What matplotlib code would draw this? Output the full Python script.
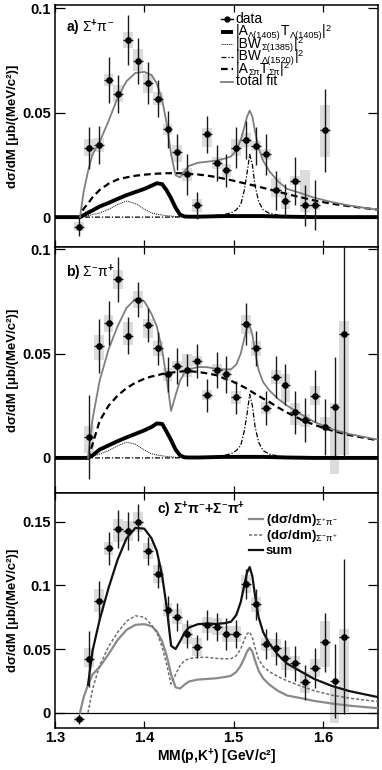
import numpy as np
import matplotlib
matplotlib.use("Agg")
import matplotlib.pyplot as plt
from matplotlib.lines import Line2D

plt.rcParams['font.family'] = ['Liberation Sans', 'DejaVu Sans']
plt.rcParams['mathtext.fontset'] = 'custom'
plt.rcParams['mathtext.rm'] = 'Liberation Sans'
plt.rcParams['mathtext.it'] = 'Liberation Sans'
plt.rcParams['mathtext.bf'] = 'Liberation Sans:bold'

# ---------------- data points ----------------
x_data = [1.327, 1.338, 1.349, 1.360, 1.371, 1.382, 1.393, 1.404, 1.415, 1.426,
          1.437, 1.448, 1.459, 1.470, 1.481, 1.492, 1.503, 1.514, 1.525, 1.536,
          1.547, 1.558, 1.569, 1.580, 1.591, 1.602, 1.613, 1.624]

# panel a: Sigma+ pi-  (first 26 bins)
ya = [-0.0045, 0.0332, 0.0345, 0.0657, 0.059, 0.0848, 0.0745, 0.064, 0.0567, 0.042,
      0.0313, 0.0204, 0.0056, 0.0396, 0.026, 0.0224, 0.0332, 0.0369, 0.034, 0.030,
      0.0128, 0.0079, 0.0175, 0.0056, 0.0056, 0.0415]
ea = [0.0045, 0.010, 0.009, 0.011, 0.009, 0.012, 0.011, 0.010, 0.009, 0.009,
      0.0087, 0.0096, 0.0065, 0.009, 0.0085, 0.008, 0.0098, 0.009, 0.009, 0.010,
      0.0092, 0.0078, 0.0115, 0.010, 0.012, 0.020]
sa_lo = [0.002, 0.004, 0.0035, 0.003, 0.004, 0.004, 0.0045, 0.0045, 0.003, 0.0025,
         0.005, 0.003, 0.003, 0.006, 0.003, 0.003, 0.004, 0.0035, 0.0025, 0.0025,
         0.0033, 0.004, 0.002, 0.003, 0.002, 0.0125]
sa_hi = [0.002, 0.004, 0.0035, 0.003, 0.004, 0.004, 0.006, 0.0045, 0.003, 0.0025,
         0.003, 0.003, 0.003, 0.003, 0.003, 0.003, 0.004, 0.0035, 0.0025, 0.0025,
         0.006, 0.004, 0.002, 0.017, 0.002, 0.012]

# panel b: Sigma- pi+  (bins 2..28)
yb = [0.010, 0.0537, 0.0645, 0.0855, 0.0585, 0.0758, 0.0637, 0.0524, 0.040, 0.044,
      0.0423, 0.0465, 0.030, 0.042, 0.040, 0.029, 0.064, 0.0524, 0.0239, 0.0387,
      0.035, 0.0218, 0.018, 0.0298, 0.0148, 0.0245, 0.0594]
eb = [0.020, 0.0129, 0.0105, 0.0106, 0.0089, 0.0085, 0.008, 0.0077, 0.0085, 0.0085,
      0.0077, 0.008, 0.008, 0.0085, 0.0089, 0.008, 0.010, 0.0085, 0.008, 0.0099,
      0.0098, 0.0102, 0.0106, 0.0125, 0.0135, 0.0236, 0.059]
sb_lo = [0.0076, 0.007, 0.004, 0.0045, 0.0045, 0.004, 0.0065, 0.0035, 0.003, 0.0025,
         0.0035, 0.0025, 0.0025, 0.003, 0.003, 0.003, 0.0045, 0.0035, 0.003, 0.0035,
         0.0083, 0.006, 0.003, 0.0045, 0.0008, 0.032, 0.058]
sb_hi = [0.0053, 0.0052, 0.004, 0.0045, 0.0068, 0.004, 0.003, 0.0035, 0.003, 0.0025,
         0.0077, 0.0025, 0.0025, 0.003, 0.003, 0.003, 0.0045, 0.0035, 0.003, 0.0035,
         0.0053, 0.0044, 0.003, 0.0045, 0.005, 0.0016, 0.006]

# panel c: sum of both channels (all 28 bins)
yc = [-0.005, 0.0421, 0.088, 0.129, 0.144, 0.1427, 0.1495, 0.127, 0.1086, 0.081,
      0.0754, 0.0618, 0.0518, 0.0688, 0.0675, 0.0618, 0.0618, 0.1008, 0.085, 0.0537,
      0.0505, 0.0427, 0.0387, 0.0238, 0.0348, 0.0552, 0.0249, 0.0597]
ec = [0.004, 0.022, 0.0157, 0.013, 0.015, 0.0148, 0.0144, 0.011, 0.011, 0.011,
      0.011, 0.011, 0.009, 0.0118, 0.011, 0.0124, 0.011, 0.0118, 0.0124, 0.0118,
      0.013, 0.0144, 0.0137, 0.0137, 0.0157, 0.023, 0.029, 0.061]
sc_lo = [0.002, 0.006, 0.009, 0.005, 0.010, 0.008, 0.008, 0.0065, 0.007, 0.005,
         0.006, 0.008, 0.007, 0.006, 0.0065, 0.006, 0.006, 0.007, 0.006, 0.005,
         0.007, 0.009, 0.006, 0.0085, 0.007, 0.019, 0.0326, 0.059]
sc_hi = [0.002, 0.0084, 0.009, 0.005, 0.008, 0.008, 0.008, 0.0065, 0.007, 0.005,
         0.006, 0.008, 0.007, 0.006, 0.0065, 0.006, 0.006, 0.007, 0.006, 0.005,
         0.007, 0.009, 0.006, 0.0085, 0.007, 0.017, -0.0052, 0.006]

# ---------------- fit curves ----------------
x_fit = [1.300, 1.328, 1.332, 1.337, 1.342, 1.350, 1.360, 1.370, 1.380, 1.390,
         1.400, 1.408, 1.414, 1.420, 1.425, 1.430, 1.435, 1.440, 1.445, 1.450,
         1.460, 1.470, 1.480, 1.490, 1.497, 1.503, 1.508, 1.512, 1.515, 1.518,
         1.521, 1.524, 1.528, 1.533, 1.540, 1.550, 1.560, 1.575, 1.590, 1.610,
         1.630, 1.662]

a_tot = [0, 0, 0.012, 0.022, 0.030, 0.036, 0.046, 0.057, 0.065, 0.069,
         0.0695, 0.068, 0.064, 0.056, 0.045, 0.030, 0.020, 0.019, 0.022, 0.0245,
         0.026, 0.0265, 0.027, 0.028, 0.029, 0.032, 0.037, 0.043, 0.048, 0.051,
         0.048, 0.041, 0.033, 0.027, 0.022, 0.017, 0.0135, 0.0115, 0.0093, 0.0072,
         0.0055, 0.0035]
a_L1405 = [0, 0, 0.0009, 0.0021, 0.0032, 0.0051, 0.0068, 0.0087, 0.0105, 0.012,
           0.0135, 0.015, 0.0162, 0.0158, 0.0128, 0.009, 0.0045, 0.0012, 0.0003, 0.0002,
           0.0002, 0.0003, 0.0004, 0.0005, 0.0005, 0.0005, 0.0005, 0.0005, 0.0005, 0.0005,
           0.0005, 0.0005, 0.0005, 0.0005, 0.0004, 0.0003, 0.0002, 0.0001, 0, 0,
           0, 0]
a_S1385 = [0, 0, 0.0003, 0.0007, 0.0012, 0.002, 0.0037, 0.006, 0.0077, 0.0065,
           0.0038, 0.002, 0.0014, 0.001, 0.0007, 0.0005, 0.0003, 0.0002, 0.0001, 0,
           0, 0, 0, 0, 0, 0, 0, 0, 0, 0,
           0, 0, 0, 0, 0, 0, 0, 0, 0, 0,
           0, 0]
a_L1520 = [0, 0, 0, 0, 0, 0, 0, 0, 0, 0,
           0, 0, 0, 0, 0, 0, 0, 0.0001, 0.0001, 0.0002,
           0.0003, 0.0005, 0.0008, 0.0013, 0.002, 0.0035, 0.006, 0.013, 0.021, 0.030,
           0.025, 0.015, 0.0075, 0.0035, 0.0018, 0.0009, 0.0005, 0.0003, 0.0002, 0.0001,
           0, 0]
a_Spi = [0, 0, 0.004, 0.0065, 0.0095, 0.013, 0.016, 0.018, 0.019, 0.0198,
         0.0203, 0.0206, 0.0208, 0.0209, 0.021, 0.021, 0.021, 0.021, 0.0209, 0.0207,
         0.0204, 0.0199, 0.0192, 0.0183, 0.0177, 0.0171, 0.0166, 0.0162, 0.0159, 0.0156,
         0.0153, 0.015, 0.0146, 0.014, 0.0133, 0.0122, 0.011, 0.0095, 0.008, 0.0064,
         0.0052, 0.0035]

b_tot = [0, 0, 0, 0, 0.0185, 0.037, 0.052, 0.063, 0.0718, 0.0761,
         0.075, 0.069, 0.063, 0.0516, 0.038, 0.0225, 0.030, 0.037, 0.0408, 0.0424,
         0.0435, 0.0435, 0.0427, 0.0423, 0.0424, 0.0447, 0.050, 0.0573, 0.062, 0.0634,
         0.059, 0.051, 0.042, 0.0363, 0.0323, 0.0282, 0.025, 0.021, 0.0173, 0.0138,
         0.0114, 0.0087]
b_L1405 = [0, 0, 0, 0, 0.0012, 0.004, 0.0060, 0.0080, 0.0098, 0.0115,
           0.0132, 0.0148, 0.0165, 0.0163, 0.0125, 0.0085, 0.004, 0.0012, 0.0003, 0.0002,
           0.0002, 0.0003, 0.0004, 0.0005, 0.0005, 0.0005, 0.0005, 0.0005, 0.0005, 0.0005,
           0.0005, 0.0005, 0.0005, 0.0005, 0.0004, 0.0003, 0.0002, 0.0001, 0, 0,
           0, 0]
b_S1385 = [0, 0, 0, 0, 0.0008, 0.0018, 0.0035, 0.0058, 0.0075, 0.0066,
           0.0038, 0.002, 0.0014, 0.001, 0.0007, 0.0005, 0.0003, 0.0002, 0.0001, 0,
           0, 0, 0, 0, 0, 0, 0, 0, 0, 0,
           0, 0, 0, 0, 0, 0, 0, 0, 0, 0,
           0, 0]
b_L1520 = [0, 0, 0, 0, 0, 0, 0, 0, 0, 0,
           0, 0, 0, 0, 0, 0, 0, 0.0001, 0.0001, 0.0002,
           0.0003, 0.0005, 0.0008, 0.0013, 0.002, 0.0035, 0.006, 0.013, 0.021, 0.0305,
           0.025, 0.015, 0.0075, 0.0035, 0.0018, 0.0009, 0.0005, 0.0003, 0.0002, 0.0001,
           0, 0]
b_Spi = [0, 0, 0, 0, 0.0065, 0.0177, 0.025, 0.0298, 0.0334, 0.036,
         0.0379, 0.039, 0.0395, 0.0402, 0.0405, 0.0408, 0.0411, 0.0413, 0.0415, 0.0415,
         0.0412, 0.0405, 0.0397, 0.0380, 0.0370, 0.0357, 0.0347, 0.0338, 0.0331, 0.0323,
         0.0315, 0.0307, 0.0297, 0.0284, 0.0268, 0.0241, 0.0217, 0.0185, 0.0159, 0.0131,
         0.0109, 0.0084]

x_ticks = [1.3, 1.4, 1.5, 1.6]
x_ticklabels = ['1.3', '1.4', '1.5', '1.6']
yticks_ab = [0, 0.05, 0.1]
yticklabels_ab = ['0', '0.05', '0.1']
yticks_c = [0, 0.05, 0.1, 0.15]
yticklabels_c = ['0', '0.05', '0.1', '0.15']

# legend texts as (segment, kind) with kind n=normal, b=subscript, p=superscript
legend_a = [
    [('data', 'n')],
    [('|A', 'n'), ('Λ(1405)', 'b'), ('T', 'n'), ('Λ(1405)', 'b'), ('|', 'n'), ('2', 'p')],
    [('|BW', 'n'), ('Σ(1385)', 'b'), ('|', 'n'), ('2', 'p')],
    [('|BW', 'n'), ('Λ(1520)', 'b'), ('|', 'n'), ('2', 'p')],
    [('|A', 'n'), ('Σπ', 'b'), ('T', 'n'), ('Σπ', 'b'), ('|', 'n'), ('2', 'p')],
    [('total fit', 'n')],
]
legend_c = ['$\\mathbf{(d\\sigma/dm)}_{\\Sigma^{+}\\pi^{-}}$',
            '$\\mathbf{(d\\sigma/dm)}_{\\Sigma^{-}\\pi^{+}}$',
            'sum']

# ---------------- figure ----------------
W, H = 382, 770
fig = plt.figure(figsize=(W / 100, H / 100), dpi=100)
L, R = 55 / W, 378.3 / W
def yf(p):
    return 1 - p / H
axa = fig.add_axes([L, yf(247), R - L, yf(5) - yf(247)])
axb = fig.add_axes([L, yf(493), R - L, yf(247) - yf(493)])
axc = fig.add_axes([L, yf(728), R - L, yf(493) - yf(728)])

xd = np.array(x_data)
xf = np.array(x_fit)
box_c = '#dcdcdc'
ylab = 'dσ/dM [μb/(MeV/c²)]'

def draw_points(ax, x, y, e, lo, hi):
    y = np.asarray(y); lo = np.asarray(lo); hi = np.asarray(hi)
    ax.bar(x, lo + hi, bottom=y - lo, width=0.011, color=box_c, linewidth=0, zorder=1)
    ax.errorbar(x, y, yerr=e, xerr=0.0055, fmt='o', ms=3.8, mfc='k', mec='k',
                ecolor='#1a1a1a', elinewidth=1.0, capsize=0, zorder=6)

def style(ax, ylim, yt, ytl):
    ax.set_xlim(1.3, 1.662)
    ax.set_ylim(*ylim)
    ax.set_xticks(x_ticks)
    ax.set_yticks(yt)
    ax.set_yticklabels(ytl, fontweight='bold', fontsize=10.5)
    ax.tick_params(axis='y', direction='in', length=7, width=0.9, right=True, pad=3)
    ax.tick_params(axis='x', direction='in', length=5, width=0.9, top=True)
    for s in ax.spines.values():
        s.set_linewidth(1.1)
    ax.set_ylabel(ylab, fontweight='bold', fontsize=9.5)
    ax.yaxis.set_label_coords(-0.112, 0.5)

def key(px0, px1, py, **kw):
    fig.add_artist(Line2D([px0 / W, px1 / W], [yf(py), yf(py)],
                          transform=fig.transFigure, **kw))

renderer = fig.canvas.get_renderer()

def rich(px, py, segs, size=10):
    base = py + 3.8
    x = px
    for s, k in segs:
        if k == 'n':
            fs, dy = size, 0.0
        elif k == 'b':
            fs, dy = size * 0.66, -2.6
        else:
            fs, dy = size * 0.66, 4.6
        t = fig.text(x / W, yf(base - dy), s, fontsize=fs, va='baseline', ha='left')
        x += t.get_window_extent(renderer=renderer).width

def keytext(px, py, s, **kw):
    fig.text(px / W, yf(py + 3.8), s, va='baseline', ha='left', **kw)

# ---- panels a, b ----
for ax, xpts, y, e, lo, hi, tot, l1405, s1385, l1520, spi, start in [
        (axa, xd[:26], ya, ea, sa_lo, sa_hi, a_tot, a_L1405, a_S1385, a_L1520, a_Spi, 1.328),
        (axb, xd[1:], yb, eb, sb_lo, sb_hi, b_tot, b_L1405, b_S1385, b_L1520, b_Spi, 1.337)]:
    draw_points(ax, xpts, y, e, lo, hi)
    ax.plot(xf, s1385, color='k', lw=0.7, ls=(0, (1, 1)), zorder=2)
    ax.plot(xf, l1520, color='k', lw=0.9, ls=(0, (4, 1.5, 1, 1.5)), zorder=2)
    ax.plot(xf, spi, color='k', lw=1.6, ls=(0, (3, 1.8)), zorder=3)
    ax.plot(xf, l1405, color='k', lw=2.8, zorder=3, solid_capstyle='butt')
    m = xf >= start
    ax.plot(xf[m], np.asarray(tot)[m], color='#7f7f7f', lw=1.3, zorder=4)
    ax.tick_params(axis='x', labelbottom=False)

style(axa, (-0.0143, 0.1015), yticks_ab, yticklabels_ab)
style(axb, (-0.0168, 0.101), yticks_ab, yticklabels_ab)

axa.text(0.035, 0.905, 'a) $\\Sigma^{\\mathbf{+}}\\pi^{-}$', transform=axa.transAxes,
         fontsize=10, fontweight='bold', va='center')
axb.text(0.035, 0.894, 'b) $\\Sigma^{-}\\pi^{\\mathbf{+}}$', transform=axb.transAxes,
         fontsize=10, fontweight='bold', va='center')

# legend panel a (drawn as keys + texts)
rows_a = [19, 31.5, 44, 56.5, 69, 81.5]
styles_a = [dict(color='k', lw=1.0),
            dict(color='k', lw=2.8, solid_capstyle='butt'),
            dict(color='k', lw=0.7, ls=(0, (1, 1))),
            dict(color='k', lw=0.9, ls=(0, (4, 1.5, 1, 1.5))),
            dict(color='k', lw=1.6, ls=(0, (3, 1.8))),
            dict(color='#7f7f7f', lw=1.3)]
for r, st, segs in zip(rows_a, styles_a, legend_a):
    key(221, 233, r, **st)
    rich(235.5, r, segs, size=10)
fig.add_artist(Line2D([227 / W], [yf(rows_a[0])], transform=fig.transFigure,
                      marker='o', ms=3.5, color='k', ls='none'))

# ---- panel c ----
sum_c = np.add(a_tot, b_tot)
draw_points(axc, xd, yc, ec, sc_lo, sc_hi)
axc.axhline(0, color='k', lw=0.9, zorder=2)
ma = xf >= 1.328
mb = xf >= 1.337
axc.plot(xf[ma], np.asarray(a_tot)[ma], color='#8a8a8a', lw=1.6, zorder=3)
axc.plot(xf[mb], np.asarray(b_tot)[mb], color='#707070', lw=1.1, ls=(0, (2, 1.3)), zorder=3)
axc.plot(xf[mb], sum_c[mb], color='#111111', lw=1.6, zorder=4)
style(axc, (-0.012, 0.1725), yticks_c, yticklabels_c)
axc.set_xticklabels(x_ticklabels, fontweight='bold', fontsize=10.5)
axc.tick_params(axis='x', pad=2.5)
axc.set_xlabel('MM(p,K$^{\\mathbf{+}}$) [GeV/c²]', fontweight='bold',
               fontsize=10, labelpad=1)
axc.text(0.3146, 0.928,
         'c) $\\mathbf{\\Sigma}^{\\mathbf{+}}\\mathbf{\\pi}^{-}$+$\\mathbf{\\Sigma}^{-}\\mathbf{\\pi}^{\\mathbf{+}}$',
         transform=axc.transAxes, fontsize=10, fontweight='bold', va='center')

rows_c = [519, 535, 550]
styles_c = [dict(color='#8a8a8a', lw=1.6),
            dict(color='#707070', lw=1.1, ls=(0, (2, 1.3))),
            dict(color='#111111', lw=1.6)]
for r, st, lab in zip(rows_c, styles_c, legend_c):
    key(249, 263, r, **st)
    keytext(266, r, lab, fontsize=9.5, fontweight='bold')

fig.savefig('out.png', dpi=100)
